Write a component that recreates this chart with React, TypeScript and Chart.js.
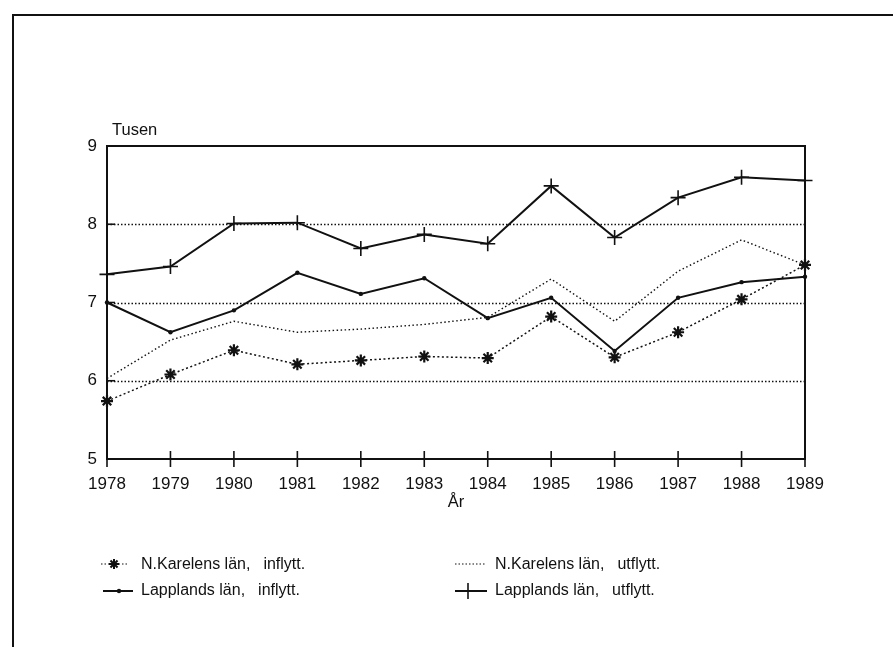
import React, { useEffect, useRef } from "react";
import { Chart, registerables } from "chart.js";

Chart.register(...registerables);

// ---- data ----
const years = ["1978", "1979", "1980", "1981", "1982", "1983", "1984", "1985", "1986", "1987", "1988", "1989"];
const karelenInflytt = [5.74, 6.08, 6.39, 6.21, 6.26, 6.31, 6.29, 6.82, 6.3, 6.62, 7.04, 7.48];
const karelenUtflytt = [6.03, 6.52, 6.76, 6.62, 6.66, 6.72, 6.81, 7.3, 6.76, 7.4, 7.8, 7.48];
const lapplandInflytt = [7.0, 6.62, 6.9, 7.38, 7.11, 7.31, 6.8, 7.06, 6.38, 7.06, 7.26, 7.33];
const lapplandUtflytt = [7.36, 7.46, 8.01, 8.02, 7.69, 7.87, 7.75, 8.49, 7.83, 8.34, 8.6, 8.56];
const yTickValues = [5, 6, 7, 8, 9];
const gridValues = [6, 7, 8];
const yUnitLabel = "Tusen";
const xAxisTitle = "År";
const legendPlace = ["N.Karelens län,", "N.Karelens län,", "Lapplands län,", "Lapplands län,"];
const legendKind = ["inflytt.", "utflytt.", "inflytt.", "utflytt."];

const FONT = '"Liberation Sans", Arial, Helvetica, sans-serif';
const INK = "#111111";

function line(ctx: CanvasRenderingContext2D, x1: number, y1: number, x2: number, y2: number) {
  ctx.beginPath();
  ctx.moveTo(x1, y1);
  ctx.lineTo(x2, y2);
  ctx.stroke();
}

function drawStar(ctx: CanvasRenderingContext2D, cx: number, cy: number, r: number) {
  ctx.save();
  ctx.setLineDash([]);
  ctx.lineWidth = 2;
  for (let k = 0; k < 4; k++) {
    const ang = (k * Math.PI) / 4;
    line(ctx, cx - r * Math.cos(ang), cy - r * Math.sin(ang), cx + r * Math.cos(ang), cy + r * Math.sin(ang));
  }
  ctx.restore();
}

const decorPlugin = {
  id: "decor",
  beforeDatasetsDraw(chart: any) {
    const { ctx, chartArea: a, scales } = chart;
    const x = scales.x;
    const y = scales.y;
    ctx.save();
    ctx.strokeStyle = INK;
    // dotted grid lines
    ctx.lineWidth = 1.3;
    ctx.setLineDash([1.5, 2]);
    gridValues.forEach((v) => {
      const py = Math.round(y.getPixelForValue(v)) + 0.5;
      line(ctx, a.left, py, a.right, py);
    });
    ctx.setLineDash([]);
    // plot frame
    ctx.lineWidth = 2;
    ctx.strokeRect(a.left, a.top, a.right - a.left, a.bottom - a.top);
    // x ticks crossing the axis
    ctx.lineWidth = 1.6;
    years.forEach((_, i) => {
      const px = x.getPixelForValue(i);
      line(ctx, px, a.bottom - 8, px, a.bottom + 8);
    });
    // y ticks, inward
    yTickValues.forEach((v) => {
      const py = y.getPixelForValue(v);
      line(ctx, a.left, py, a.left + 8, py);
    });
    ctx.restore();
  },
  afterDraw(chart: any) {
    const { ctx, chartArea: a } = chart;
    ctx.save();
    ctx.strokeStyle = INK;
    ctx.fillStyle = INK;
    // outer page frame
    ctx.lineWidth = 2;
    ctx.beginPath();
    ctx.moveTo(13, 647);
    ctx.lineTo(13, 15);
    ctx.lineTo(893, 15);
    ctx.stroke();

    // unit label and axis title
    ctx.font = `16.5px ${FONT}`;
    ctx.textBaseline = "alphabetic";
    ctx.textAlign = "left";
    ctx.fillText(yUnitLabel, a.left + 5, a.top - 11);
    ctx.textAlign = "center";
    ctx.fillText(xAxisTitle, (a.left + a.right) / 2, a.bottom + 48);

    // legend
    const colText = [141, 495];
    const colSym = [101, 455];
    const rowY = [565, 591];
    ctx.textAlign = "left";
    ctx.textBaseline = "middle";
    ctx.font = `16px ${FONT}`;
    for (let i = 0; i < 4; i++) {
      const r = Math.floor(i / 2);
      const c = i % 2;
      const yy = rowY[r];
      const sx = colSym[c];
      ctx.fillText(legendPlace[i], colText[c], yy);
      const w = ctx.measureText(legendPlace[i]).width;
      ctx.fillText(legendKind[i], colText[c] + w + 13, yy);
      ctx.lineWidth = i < 2 ? 1.2 : 2;
      if (i < 2) ctx.setLineDash([1.5, 2]);
      else ctx.setLineDash([]);
      if (i === 0) {
        line(ctx, sx, yy - 1, sx + 27, yy - 1);
        drawStar(ctx, sx + 13, yy - 1, 5);
      } else if (i === 1) {
        line(ctx, sx, yy - 1, sx + 30, yy - 1);
      } else if (i === 2) {
        line(ctx, sx + 2, yy, sx + 32, yy);
        ctx.beginPath();
        ctx.arc(sx + 18, yy, 2.2, 0, Math.PI * 2);
        ctx.fill();
      } else {
        line(ctx, sx, yy, sx + 32, yy);
        ctx.lineWidth = 1.6;
        line(ctx, sx + 13, yy - 8, sx + 13, yy + 8);
      }
    }
    ctx.restore();
  },
};

export default function App() {
  const canvasRef = useRef<HTMLCanvasElement | null>(null);

  useEffect(() => {
    const canvas = canvasRef.current;
    if (!canvas) return;
    const chart = new Chart(canvas, {
      type: "line",
      data: {
        labels: years,
        datasets: [
          {
            label: "N.Karelens län, inflytt.",
            data: karelenInflytt,
            borderColor: INK,
            borderWidth: 1.5,
            borderDash: [2, 2.5],
            pointStyle: "star",
            pointRadius: 6,
            pointBorderWidth: 2.2,
            pointBorderColor: INK,
            pointBackgroundColor: INK,
            tension: 0,
            clip: false,
          },
          {
            label: "N.Karelens län, utflytt.",
            data: karelenUtflytt,
            borderColor: INK,
            borderWidth: 1.4,
            borderDash: [1.5, 2.5],
            pointRadius: 0,
            tension: 0,
            clip: false,
          },
          {
            label: "Lapplands län, inflytt.",
            data: lapplandInflytt,
            borderColor: INK,
            borderWidth: 2,
            pointStyle: "circle",
            pointRadius: 2.2,
            pointBorderWidth: 0,
            pointBackgroundColor: INK,
            tension: 0,
            clip: false,
          },
          {
            label: "Lapplands län, utflytt.",
            data: lapplandUtflytt,
            borderColor: INK,
            borderWidth: 2,
            pointStyle: "cross",
            pointRadius: 7.5,
            pointBorderWidth: 1.6,
            pointBorderColor: INK,
            tension: 0,
            clip: false,
          },
        ],
      },
      options: {
        responsive: false,
        animation: false,
        devicePixelRatio: 1,
        layout: { padding: { top: 146, right: 88, bottom: 148, left: 0 } },
        plugins: {
          legend: { display: false },
          tooltip: { enabled: false },
        },
        scales: {
          x: {
            type: "category",
            offset: false,
            grid: { display: false, drawTicks: false },
            border: { display: false },
            ticks: {
              color: INK,
              font: { family: FONT, size: 17 },
              padding: 15,
              maxRotation: 0,
              autoSkip: false,
            },
            afterFit: (scale: any) => {
              scale.height = 40;
            },
          },
          y: {
            min: 5,
            max: 9,
            grid: { display: false, drawTicks: false },
            border: { display: false },
            ticks: {
              stepSize: 1,
              color: INK,
              font: { family: FONT, size: 17 },
              padding: 10,
            },
            afterFit: (scale: any) => {
              scale.width = 107;
            },
          },
        },
      },
      plugins: [decorPlugin],
    });
    return () => chart.destroy();
  }, []);

  return (
    <div style={{ position: "fixed", left: 0, top: 0, width: 893, height: 647, background: "#ffffff" }}>
      <canvas ref={canvasRef} width={893} height={647} style={{ display: "block" }} />
    </div>
  );
}
